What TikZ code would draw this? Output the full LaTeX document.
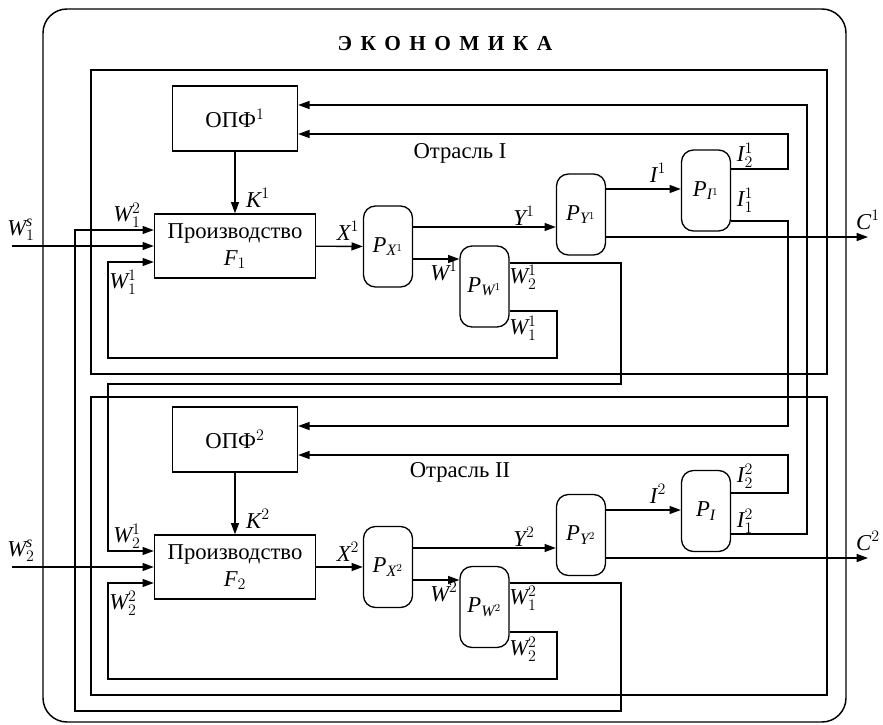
\documentclass[tikz,border=0pt]{standalone}
\usepackage{fontspec}
\setmainfont{Liberation Serif}
\usepackage{tikz}
\usetikzlibrary{arrows.meta,positioning,calc}
\newcommand{\mvar}[1]{\mathit{#1}}
\tikzset{
  prodbox/.style={rectangle,draw,line width=1pt,align=center,
    minimum width=120.75pt,minimum height=48pt,inner sep=1pt},
  fundbox/.style={rectangle,draw,line width=1pt,align=center,
    minimum width=93.75pt,minimum height=48.75pt},
  pricebox/.style={rectangle,rounded corners=9pt,draw,line width=1pt,
    minimum width=36.75pt,minimum height=60.75pt,inner sep=0pt},
  flow/.style={-{Triangle[length=8.5pt,width=6pt]},line width=1pt},
  lbl/.style={inner sep=0pt}
}

\begin{document}
\begin{tikzpicture}[x=0.75pt,y=-0.75pt,font=\fontsize{17}{20}\selectfont]
  \useasboundingbox (0,0) rectangle (883,725);
  \draw[line width=1.1pt,rounded corners=18pt] (43,9) rectangle (846,722);
  \node[font=\fontsize{16}{18}\selectfont\bfseries] (title) at (445,44)
    {Э\hspace{6.3pt}К\hspace{6.3pt}О\hspace{6.3pt}Н\hspace{6.3pt}О\hspace{6.3pt}М\hspace{6.3pt}И\hspace{6.3pt}К\hspace{6.3pt}А};
  % branch boxes
  \draw[line width=1pt] (91,70) rectangle (827,374);
  \draw[line width=1pt] (91,397) rectangle (827,695);
  \node (sec1) at (460,153) {Отрасль I};
  \node (sec2) at (460,472) {Отрасль II};

  % branch I
  \node[fundbox] (opf1) at (235,118.5) {ОПФ$^{1}$};
  \node[prodbox] (prod1) at (235,246) {Производство\\$\mvar{F}_{1}$};
  \node[pricebox] (px1) at (388,246.5) {$\mvar{P}_{\mvar{X}^{1}}$};
  \node[pricebox] (pw1) at (484.5,286.5) {$\mvar{P}_{\mvar{W}^{1}}$};
  \node[pricebox] (py1) at (581,214.5) {$\mvar{P}_{\mvar{Y}^{1}}$};
  \node[pricebox] (pi1) at (706,190.5) {$\mvar{P}_{\mvar{I}^{1}}$};
  \coordinate (ws1) at (12,246);
  \coordinate (c1) at (868,237);

  % branch II
  \node[fundbox] (opf2) at (235,439.5) {ОПФ$^{2}$};
  \node[prodbox] (prod2) at (235,567) {Производство\\$\mvar{F}_{2}$};
  \node[pricebox] (px2) at (388,567) {$\mvar{P}_{\mvar{X}^{2}}$};
  \node[pricebox] (pw2) at (484.5,607) {$\mvar{P}_{\mvar{W}^{2}}$};
  \node[pricebox] (py2) at (581,535) {$\mvar{P}_{\mvar{Y}^{2}}$};
  \node[pricebox] (pi2) at (706,511) {$\mvar{P}_{\mvar{I}}$};
  \coordinate (ws2) at (12,567);
  \coordinate (c2) at (868,558);

  % flows, branch I
  \draw[flow] (ws1) -- (prod1.west);
  \draw[flow] (opf1) -- (prod1);
  \draw[flow] (prod1) -- (px1);
  \draw[flow] (px1.east |- 0,227) -- (py1.west |- 0,227);
  \draw[flow] (px1.east |- 0,259) -- (pw1.west |- 0,259);
  \draw[flow] (py1.east |- 0,189) -- (pi1.west |- 0,189);
  \draw[flow] (py1.east |- 0,237) -- (c1);
  \draw[flow] (pi1.east |- 0,169) -| (788,134) -- (opf1.east |- 0,134);
  \draw[flow] (pi1.east |- 0,221) -| (788,426) -- (opf2.east |- 0,426);
  \draw[flow] (pw1.east |- 0,263) -| (621,384) -| (108,551) -- (prod2.west |- 0,551);
  \draw[flow] (pw1.east |- 0,311) -| (557,358) -| (108,262) -- (prod1.west |- 0,262);

  % flows, branch II
  \draw[flow] (ws2) -- (prod2.west);
  \draw[flow] (opf2) -- (prod2);
  \draw[flow] (prod2) -- (px2);
  \draw[flow] (px2.east |- 0,548) -- (py2.west |- 0,548);
  \draw[flow] (px2.east |- 0,580) -- (pw2.west |- 0,580);
  \draw[flow] (py2.east |- 0,510) -- (pi2.west |- 0,510);
  \draw[flow] (py2.east |- 0,558) -- (c2);
  \draw[flow] (pi2.east |- 0,493) -| (788,455) -- (opf2.east |- 0,455);
  \draw[flow] (pi2.east |- 0,534) -| (807,105) -- (opf1.east |- 0,105);
  \draw[flow] (pw2.east |- 0,583) -| (621,711) -| (75,230) -- (prod1.west |- 0,230);
  \draw[flow] (pw2.east |- 0,632) -| (557,679) -| (108,583) -- (prod2.west |- 0,583);

  % labels, branch I
  \node[lbl] (lws1) at (21,230) {$\mvar{W}^{\mvar{s}}_{1}$};
  \node[lbl] (lw12a) at (127,215) {$\mvar{W}^{2}_{1}$};
  \node[lbl] (lw11a) at (123,282) {$\mvar{W}^{1}_{1}$};
  \node[lbl] (lk1) at (258,198) {$\mvar{K}^{1}$};
  \node[lbl] (lx1) at (348,231) {$\mvar{X}^{1}$};
  \node[lbl] (ly1) at (524,216) {$\mvar{Y}^{1}$};
  \node[lbl] (lw1) at (444,271) {$\mvar{W}^{1}$};
  \node[lbl] (lw21b) at (523,277) {$\mvar{W}^{1}_{2}$};
  \node[lbl] (lw11b) at (523,328) {$\mvar{W}^{1}_{1}$};
  \node[lbl] (li1) at (658,173) {$\mvar{I}^{1}$};
  \node[lbl] (li21) at (745,155) {$\mvar{I}^{1}_{2}$};
  \node[lbl] (li11) at (745,200) {$\mvar{I}^{1}_{1}$};
  \node[lbl] (lc1) at (868,220) {$\mvar{C}^{1}$};

  % labels, branch II
  \node[lbl] (lws2) at (21,551) {$\mvar{W}^{\mvar{s}}_{2}$};
  \node[lbl] (lw21a) at (127,536) {$\mvar{W}^{1}_{2}$};
  \node[lbl] (lw22a) at (123,603) {$\mvar{W}^{2}_{2}$};
  \node[lbl] (lk2) at (258,519) {$\mvar{K}^{2}$};
  \node[lbl] (lx2) at (348,552) {$\mvar{X}^{2}$};
  \node[lbl] (ly2) at (524,537) {$\mvar{Y}^{2}$};
  \node[lbl] (lw2) at (444,592) {$\mvar{W}^{2}$};
  \node[lbl] (lw12b) at (523,598) {$\mvar{W}^{2}_{1}$};
  \node[lbl] (lw22b) at (523,649) {$\mvar{W}^{2}_{2}$};
  \node[lbl] (li2) at (658,494) {$\mvar{I}^{2}$};
  \node[lbl] (li22) at (745,476) {$\mvar{I}^{2}_{2}$};
  \node[lbl] (li12) at (745,521) {$\mvar{I}^{2}_{1}$};
  \node[lbl] (lc2) at (868,541) {$\mvar{C}^{2}$};
\end{tikzpicture}
\end{document}
